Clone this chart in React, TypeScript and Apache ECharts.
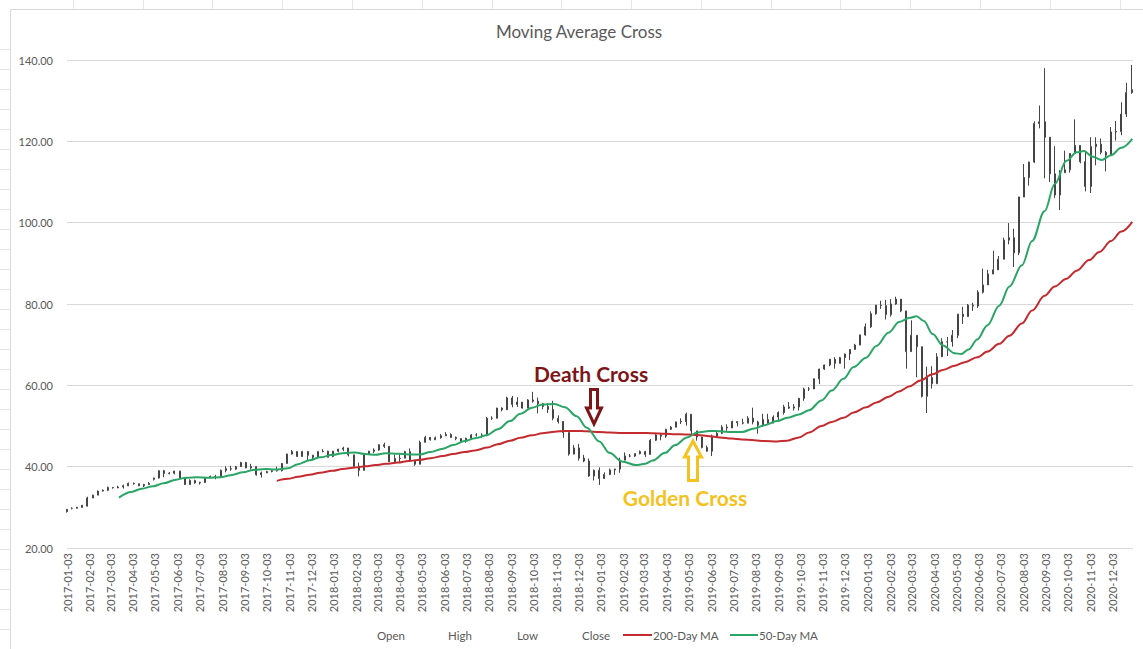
import React, { useEffect, useRef } from 'react';
import * as echarts from 'echarts';

// ---------- DATA ----------
// Weekly candles, one every 7 calendar days starting at 2017-01-03
const candleStart = '2017-01-03';
const candleStepDays = 7;

const openPrices = [
  // 2017
  28.95, 29.75, 29.76, 30.0, 30.3, 32.3, 33.0, 34.0, 34.2, 34.9, 34.8, 35.0, 35.3,
  35.9, 35.8, 35.3, 35.6, 36.9, 37.2, 39.0, 38.3, 38.4, 38.9, 37.2, 35.6, 36.6,
  36.0, 36.1, 37.3, 37.6, 37.4, 39.1, 39.5, 39.4, 40.0, 41.0, 39.7, 40.0, 38.0,
  38.5, 38.8, 39.0, 39.0, 40.8, 43.1, 43.7, 42.5, 43.7, 42.8, 42.3, 43.7, 43.8,
  // 2018
  42.5, 43.8, 44.3, 44.6, 42.9, 40.1, 39.1, 43.1, 43.8, 44.1, 45.4, 45.0, 41.2,
  42.0, 42.1, 43.7, 41.4, 40.6, 46.0, 47.2, 46.6, 47.1, 47.6, 47.9, 47.2, 46.9,
  46.3, 47.0, 47.8, 47.8, 47.7, 51.9, 51.9, 54.4, 54.0, 56.9, 55.3, 55.9, 54.4,
  56.4, 56.1, 55.5, 54.8, 54.1, 51.9, 51.1, 48.4, 43.1, 44.6, 42.1, 41.4, 37.7,
  // 2019
  39.1, 37.1, 38.1, 39.2, 39.4, 41.6, 42.6, 42.6, 43.2, 43.7, 43.0, 46.5, 47.8,
  47.5, 49.2, 49.7, 51.0, 51.1, 52.9, 48.8, 47.3, 44.7, 43.8, 47.5, 48.2, 49.7,
  49.5, 51.1, 50.8, 50.7, 51.9, 51.0, 50.2, 51.6, 50.7, 52.2, 53.3, 54.7, 54.4,
  54.7, 56.8, 59.1, 59.1, 61.6, 64.0, 65.0, 66.4, 65.4, 66.8, 67.7, 68.8, 69.9, 72.4,
  // 2020
  74.4, 77.6, 79.7, 79.6, 77.4, 80.0, 81.2, 78.3, 68.3, 72.3, 69.5, 57.3, 61.9,
  60.4, 67.0, 70.7, 70.7, 72.3, 77.5, 76.9, 79.7, 79.5, 82.9, 84.7, 87.4, 88.4,
  91.0, 95.7, 96.3, 92.6, 106.3, 111.1, 114.9, 124.4, 124.8, 121.0, 112.0, 106.8, 112.3,
  113.0, 117.0, 119.0, 115.0, 108.9, 118.7, 119.3, 117.3, 116.6, 122.3, 122.4, 126.7, 132.0,
];

const closePrices = [
  // 2017
  29.5, 29.76, 30.0, 30.5, 32.3, 33.0, 34.0, 34.2, 34.9, 34.8, 35.0, 35.3, 35.9,
  35.8, 35.3, 35.6, 35.9, 37.2, 39.0, 38.3, 38.4, 38.9, 37.2, 35.6, 36.6, 36.0,
  36.1, 37.3, 37.6, 37.4, 39.1, 39.5, 39.4, 40.0, 41.0, 39.7, 40.0, 38.0, 38.5,
  38.8, 39.0, 39.0, 40.8, 43.1, 43.7, 42.5, 43.7, 42.8, 42.3, 43.7, 43.8, 42.3,
  // 2018
  43.8, 44.3, 44.6, 42.9, 40.1, 39.1, 43.1, 43.8, 44.1, 45.4, 45.0, 41.2, 42.0,
  42.1, 43.7, 41.4, 40.6, 46.0, 47.2, 46.6, 47.1, 47.6, 47.9, 47.2, 46.9, 46.3,
  47.0, 47.8, 47.8, 47.7, 51.9, 51.9, 54.4, 54.0, 56.9, 55.3, 55.9, 54.4, 56.4,
  56.1, 55.5, 54.8, 54.1, 51.9, 51.1, 48.4, 43.1, 44.6, 42.1, 41.4, 37.7, 39.1,
  // 2019
  37.1, 38.1, 39.2, 39.4, 41.6, 42.6, 42.6, 43.2, 43.7, 43.0, 46.5, 47.8, 47.5,
  49.2, 49.7, 51.0, 51.1, 52.9, 48.8, 47.3, 44.7, 43.8, 47.5, 48.2, 49.7, 49.5,
  51.1, 50.8, 50.7, 51.9, 51.0, 50.2, 51.6, 50.7, 52.2, 53.3, 54.7, 54.4, 54.7,
  56.8, 59.1, 59.1, 61.6, 64.0, 65.0, 66.4, 65.4, 66.8, 67.7, 68.8, 69.9, 72.4, 74.4,
  // 2020
  77.6, 79.7, 79.6, 77.4, 80.0, 81.2, 78.3, 68.3, 72.3, 69.5, 57.3, 61.9, 60.4,
  67.0, 70.7, 70.7, 72.3, 77.5, 76.9, 79.7, 79.5, 82.9, 84.7, 87.4, 88.4, 91.0,
  95.7, 96.3, 92.6, 106.3, 111.1, 114.9, 124.4, 124.8, 121.0, 112.0, 106.8, 112.3, 113.0,
  117.0, 119.0, 115.0, 108.9, 118.7, 119.3, 117.3, 116.6, 122.3, 122.4, 126.7, 132.0, 132.7,
];

const lowPrices = [
  // 2017
  28.7, 29.5, 29.7, 29.9, 30.2, 32.3, 33.0, 33.9, 34.0, 34.6, 34.7, 34.6, 35.2,
  35.6, 35.2, 35.0, 35.6, 36.6, 37.1, 37.4, 38.1, 38.1, 37.1, 35.5, 35.6, 35.8,
  35.6, 36.0, 37.2, 36.9, 37.3, 38.6, 39.0, 39.2, 40.0, 39.6, 39.3, 37.8, 37.3,
  38.4, 38.6, 38.8, 38.8, 40.7, 43.0, 42.4, 42.4, 41.6, 41.6, 42.0, 43.5, 42.3,
  // 2018
  42.3, 43.5, 43.8, 42.5, 40.0, 37.6, 39.0, 42.9, 43.3, 43.9, 44.6, 41.2, 41.0,
  41.1, 42.1, 41.3, 40.2, 40.6, 46.0, 46.4, 46.6, 46.9, 47.5, 47.1, 46.5, 45.9,
  45.9, 46.8, 47.4, 47.0, 47.5, 51.5, 51.9, 53.6, 54.0, 54.6, 54.7, 54.3, 54.4,
  55.7, 53.1, 54.1, 53.2, 51.4, 50.6, 47.1, 42.7, 43.0, 41.5, 41.1, 37.5, 36.6,
  // 2019
  35.5, 37.0, 37.9, 38.0, 38.5, 41.6, 42.3, 42.4, 43.0, 42.4, 43.0, 46.3, 46.5,
  47.1, 49.0, 49.7, 50.5, 50.1, 48.0, 46.4, 44.5, 43.7, 42.6, 47.5, 48.0, 48.8,
  49.5, 49.9, 50.4, 50.7, 50.4, 48.1, 49.8, 50.3, 50.7, 51.1, 52.8, 54.2, 53.8,
  53.8, 56.2, 58.6, 59.1, 60.3, 63.8, 64.7, 64.1, 65.4, 64.1, 66.2, 68.8, 69.9, 72.2,
  // 2020
  74.1, 77.4, 78.8, 76.2, 76.9, 79.8, 78.0, 64.1, 68.3, 62.0, 57.0, 53.2, 59.2,
  60.4, 67.0, 67.2, 69.5, 71.6, 75.1, 76.9, 78.3, 79.0, 82.6, 84.7, 87.3, 88.4,
  91.0, 94.7, 89.1, 92.0, 106.3, 109.1, 114.7, 123.2, 110.9, 110.0, 106.1, 103.1, 112.2,
  112.3, 117.0, 114.6, 107.7, 107.3, 114.1, 116.8, 112.6, 116.6, 120.2, 121.5, 126.0, 131.7,
];

const highPrices = [
  // 2017
  29.6, 30.0, 30.1, 30.6, 32.6, 33.1, 34.1, 34.4, 35.1, 35.0, 35.3, 35.6, 36.1,
  36.1, 35.8, 35.8, 36.2, 37.3, 39.1, 39.2, 38.7, 39.0, 39.0, 37.4, 36.9, 36.8,
  36.3, 37.4, 37.8, 38.0, 39.3, 40.1, 40.2, 40.2, 41.2, 41.2, 40.7, 40.1, 38.8,
  39.0, 39.4, 40.0, 40.9, 43.2, 44.1, 43.8, 43.9, 43.8, 42.9, 43.8, 44.3, 43.9,
  // 2018
  43.9, 44.4, 44.9, 44.6, 42.9, 41.0, 43.3, 43.9, 44.5, 45.5, 45.9, 45.1, 43.0,
  43.0, 43.9, 44.5, 41.7, 46.4, 47.6, 47.3, 47.4, 48.0, 48.5, 48.2, 47.4, 47.0,
  47.1, 48.0, 48.2, 48.2, 52.2, 52.4, 54.5, 54.6, 57.2, 57.4, 57.1, 55.9, 56.6,
  58.4, 57.0, 55.7, 55.6, 56.2, 52.6, 51.2, 48.4, 45.3, 45.6, 42.9, 42.0, 39.3,
  // 2019
  39.8, 38.6, 39.5, 39.5, 42.2, 43.5, 43.1, 43.3, 44.0, 43.9, 46.8, 48.0, 48.0,
  49.3, 50.0, 51.1, 51.9, 53.3, 52.9, 48.8, 47.3, 45.2, 47.9, 49.0, 50.2, 50.4,
  51.3, 51.1, 51.8, 52.4, 54.5, 51.3, 53.0, 53.0, 52.6, 53.6, 55.2, 55.9, 55.4,
  56.9, 59.4, 59.6, 61.7, 64.1, 65.1, 66.5, 66.9, 67.0, 67.8, 68.9, 70.2, 72.5, 75.2,
  // 2020
  78.2, 79.8, 80.8, 81.0, 81.2, 81.8, 81.2, 78.3, 76.0, 72.3, 69.5, 64.6, 64.7,
  67.9, 71.6, 71.9, 73.6, 77.6, 79.3, 80.0, 80.3, 83.4, 88.7, 88.4, 93.1, 91.8,
  96.3, 99.9, 98.5, 106.4, 114.4, 115.0, 124.9, 128.8, 138.0, 121.0, 118.8, 112.9, 117.7,
  117.0, 125.4, 119.0, 117.6, 121.0, 121.0, 120.7, 117.6, 123.5, 125.0, 129.6, 134.4, 138.8,
];

// 50-day moving average (date, value)
const ma50: [string, number][] = [
  ['2017-03-15', 32.4], ['2017-04-01', 33.8], ['2017-04-15', 34.6], ['2017-05-01', 35.2],
  ['2017-05-15', 35.9], ['2017-06-01', 36.8], ['2017-06-15', 37.3], ['2017-07-01', 37.4],
  ['2017-07-15', 37.3], ['2017-08-01', 37.4], ['2017-08-15', 37.9], ['2017-09-01', 38.6],
  ['2017-09-15', 39.2], ['2017-10-01', 39.4], ['2017-10-15', 39.3], ['2017-11-01', 39.6],
  ['2017-11-15', 40.6], ['2017-12-01', 41.6], ['2017-12-15', 42.3], ['2018-01-02', 42.9],
  ['2018-01-15', 43.3], ['2018-02-01', 43.5], ['2018-02-15', 43.1], ['2018-03-01', 42.9],
  ['2018-03-15', 43.3], ['2018-04-01', 43.2], ['2018-04-15', 43.0], ['2018-05-01', 43.0],
  ['2018-05-15', 43.6], ['2018-06-01', 44.4], ['2018-06-15', 45.3], ['2018-07-01', 46.3],
  ['2018-07-15', 47.0], ['2018-08-01', 47.8], ['2018-08-15', 49.2], ['2018-09-01', 51.2],
  ['2018-09-15', 53.0], ['2018-10-01', 54.5], ['2018-10-15', 55.3], ['2018-11-01', 55.4],
  ['2018-11-15', 54.6], ['2018-12-01', 52.4], ['2018-12-15', 49.6], ['2019-01-01', 46.2],
  ['2019-01-15', 43.4], ['2019-02-01', 41.3], ['2019-02-20', 40.4], ['2019-03-05', 40.7],
  ['2019-03-15', 41.5], ['2019-04-01', 43.4], ['2019-04-15', 45.3], ['2019-05-01', 47.2],
  ['2019-05-15', 48.4], ['2019-06-01', 48.8], ['2019-06-15', 48.7], ['2019-07-01', 48.5],
  ['2019-07-15', 48.5], ['2019-08-01', 49.4], ['2019-08-15', 50.2], ['2019-09-01', 51.2],
  ['2019-09-15', 52.0], ['2019-10-01', 52.8], ['2019-10-15', 53.9], ['2019-11-01', 56.3],
  ['2019-11-15', 58.7], ['2019-12-01', 61.6], ['2019-12-15', 64.5], ['2020-01-01', 66.8],
  ['2020-01-15', 69.7], ['2020-02-01', 73.0], ['2020-02-15', 75.6], ['2020-03-01', 76.6],
  ['2020-03-10', 77.0], ['2020-03-20', 75.8], ['2020-04-01', 72.6], ['2020-04-15', 69.8],
  ['2020-05-01', 67.9], ['2020-05-10', 67.7], ['2020-05-20', 68.8], ['2020-06-01', 71.3],
  ['2020-06-15', 74.8], ['2020-07-01', 79.6], ['2020-07-15', 84.3], ['2020-08-01', 89.5],
  ['2020-08-15', 95.5], ['2020-09-01', 102.8], ['2020-09-15', 109.5], ['2020-10-01', 115.2],
  ['2020-10-15', 117.3], ['2020-10-25', 117.6], ['2020-11-05', 116.3], ['2020-11-18', 115.4],
  ['2020-12-01', 116.6], ['2020-12-15', 118.4], ['2020-12-30', 120.6],
];

// 200-day moving average (date, value)
const ma200: [string, number][] = [
  ['2017-10-17', 36.5], ['2017-11-01', 37.0], ['2017-11-15', 37.5], ['2017-12-01', 38.0],
  ['2017-12-15', 38.5], ['2018-01-01', 39.0], ['2018-01-15', 39.4], ['2018-02-01', 39.8],
  ['2018-02-15', 40.1], ['2018-03-01', 40.4], ['2018-03-15', 40.7], ['2018-04-01', 41.0],
  ['2018-04-15', 41.4], ['2018-05-01', 41.7], ['2018-05-15', 42.1], ['2018-06-01', 42.6],
  ['2018-06-15', 43.1], ['2018-07-01', 43.6], ['2018-07-15', 44.0], ['2018-08-01', 44.7],
  ['2018-08-15', 45.5], ['2018-09-01', 46.4], ['2018-09-15', 47.1], ['2018-10-01', 47.7],
  ['2018-10-15', 48.2], ['2018-11-01', 48.6], ['2018-11-15', 48.8], ['2018-12-01', 48.8],
  ['2018-12-15', 48.7], ['2019-01-01', 48.5], ['2019-01-15', 48.4], ['2019-02-01', 48.3],
  ['2019-02-15', 48.3], ['2019-03-01', 48.3], ['2019-03-15', 48.2], ['2019-04-01', 48.1],
  ['2019-04-15', 48.0], ['2019-05-01', 47.9], ['2019-05-15', 47.8], ['2019-06-01', 47.5],
  ['2019-06-15', 47.2], ['2019-07-01', 46.9], ['2019-07-15', 46.7], ['2019-08-01', 46.5],
  ['2019-08-15', 46.3], ['2019-09-01', 46.2], ['2019-09-15', 46.4], ['2019-10-01', 47.2],
  ['2019-10-15', 48.4], ['2019-11-01', 50.0], ['2019-11-15', 51.0], ['2019-12-01', 52.0],
  ['2019-12-15', 53.3], ['2020-01-01', 54.6], ['2020-01-15', 55.8], ['2020-02-01', 57.2],
  ['2020-02-15', 58.5], ['2020-03-01', 59.8], ['2020-03-15', 61.2], ['2020-04-01', 62.7],
  ['2020-04-15', 63.8], ['2020-05-01', 64.8], ['2020-05-15', 65.7], ['2020-06-01', 66.9],
  ['2020-06-15', 68.3], ['2020-07-01', 70.2], ['2020-07-15', 72.2], ['2020-08-01', 75.2],
  ['2020-08-15', 78.4], ['2020-09-01', 82.0], ['2020-09-15', 84.3], ['2020-10-01', 86.2],
  ['2020-10-15', 88.2], ['2020-11-01', 90.8], ['2020-11-15', 92.8], ['2020-12-01', 95.5],
  ['2020-12-15', 97.8], ['2020-12-30', 100.2],
];

// Axis settings
const axisStart = '2017-01-03';
const axisEnd = '2020-12-31';
const yTicks = { min: 20, max: 140, interval: 20 };

const legendItems = ['Open', 'High', 'Low', 'Close', '200-Day MA', '50-Day MA'];
const chartTitle = 'Moving Average Cross';

// ---------- helpers ----------
const DAY_MS = 86400000;
const toMs = (d: string) => Date.parse(d + 'T00:00:00Z');
const startMs = toMs(axisStart);
const dayIndex = (d: string) => Math.round((toMs(d) - startMs) / DAY_MS);
const dayCount = dayIndex(axisEnd) + 1;
const dayLabels = Array.from({ length: dayCount }, (_, i) =>
  new Date(startMs + i * DAY_MS).toISOString().slice(0, 10)
);
const candleOffset = dayIndex(candleStart);

const TEXT = '#595959';
const GRID = '#d9d9d9';
const RED = '#C42B2F';
const GREEN = '#2BA565';
const CANDLE = '#454545';
const DEATH = '#7E1519';
const GOLD = '#F4C21E';
const FONT = 'Lato, "Noto Sans", sans-serif';

export default function App() {
  const ref = useRef<HTMLDivElement>(null);

  useEffect(() => {
    if (!ref.current) return;
    const chart = echarts.init(ref.current, undefined, { renderer: 'svg' });

    const candles = openPrices.map((o, i) => [
      candleOffset + i * candleStepDays,
      o,
      closePrices[i],
      lowPrices[i],
      highPrices[i],
    ]);

    // Excel sheet cell marks around the chart frame (decoration)
    const cellMarks: any[] = [];
    for (let x = 72.7; x < 1143; x += 69.8) {
      cellMarks.push({
        type: 'line', silent: true,
        shape: { x1: Math.round(x) + 0.5, y1: 0, x2: Math.round(x) + 0.5, y2: 9 },
        style: { stroke: '#e6e6e6', lineWidth: 1 },
      });
    }
    for (let y = 49.3; y < 649; y += 20) {
      cellMarks.push({
        type: 'line', silent: true,
        shape: { x1: 0, y1: Math.round(y) + 0.5, x2: 10, y2: Math.round(y) + 0.5 },
        style: { stroke: '#e6e6e6', lineWidth: 1 },
      });
    }

    const legendY = 635;
    const legendText = (text: string, x: number) => ({
      type: 'text', silent: true, x, y: legendY,
      style: { text, fill: TEXT, fontSize: 11.5, fontFamily: FONT, align: 'left', verticalAlign: 'middle' },
    });
    const legendLine = (x1: number, x2: number, color: string) => ({
      type: 'line', silent: true,
      shape: { x1, y1: legendY, x2, y2: legendY },
      style: { stroke: color, lineWidth: 2 },
    });

    const option: any = {
      animation: false,
      backgroundColor: '#ffffff',
      grid: { left: 67, right: 10, top: 60, bottom: 101, containLabel: false },
      xAxis: [
        {
          type: 'value', min: 0, max: dayCount - 1, show: false, position: 'top',
          splitLine: { show: false },
        },
        {
          type: 'category', data: dayLabels, boundaryGap: false, position: 'bottom',
          axisLine: { show: false }, axisTick: { show: false }, splitLine: { show: false },
          axisLabel: {
            interval: (_i: number, v: string) => v.slice(8) === '03',
            rotate: 90, color: TEXT, fontSize: 11, fontFamily: FONT, margin: 5,
          },
        },
      ],
      yAxis: {
        type: 'value', min: yTicks.min, max: yTicks.max, interval: yTicks.interval,
        axisLine: { show: false }, axisTick: { show: false },
        axisLabel: { formatter: (v: number) => v.toFixed(2), color: TEXT, fontSize: 11, fontFamily: FONT, margin: 14 },
        splitLine: { lineStyle: { color: GRID, width: 1 } },
      },
      series: [
        {
          name: 'Price', type: 'candlestick', xAxisIndex: 0, yAxisIndex: 0,
          data: candles, barWidth: 1.5, large: false, z: 2,
          itemStyle: { color: CANDLE, color0: CANDLE, borderColor: CANDLE, borderColor0: CANDLE, borderWidth: 1 },
        },
        {
          name: legendItems[4], type: 'line', xAxisIndex: 0, yAxisIndex: 0,
          data: ma200.map(([d, v]) => [dayIndex(d), v]),
          showSymbol: false, smooth: 0.35, smoothMonotone: 'x', z: 4,
          lineStyle: { color: RED, width: 2 },
        },
        {
          name: legendItems[5], type: 'line', xAxisIndex: 0, yAxisIndex: 0,
          data: ma50.map(([d, v]) => [dayIndex(d), v]),
          showSymbol: false, smooth: 0.35, smoothMonotone: 'x', z: 4,
          lineStyle: { color: GREEN, width: 2 },
        },
      ],
      graphic: [
        {
          type: 'rect', silent: true,
          shape: { x: 10.5, y: 9.5, width: 1150, height: 660 },
          style: { fill: 'none', stroke: '#d9d9d9', lineWidth: 1 },
        },
        ...cellMarks,
        {
          type: 'text', silent: true, x: 579, y: 31,
          style: { text: chartTitle, fill: TEXT, fontSize: 17, fontFamily: FONT, align: 'center', verticalAlign: 'middle' },
        },
        {
          type: 'text', silent: true, x: 591, y: 373, z: 10,
          style: { text: 'Death Cross', fill: DEATH, fontSize: 21, fontWeight: 'bold', fontFamily: FONT, align: 'center', verticalAlign: 'middle' },
        },
        {
          type: 'polygon', silent: true, z: 10,
          shape: { points: [[590.5, 389.5], [597.5, 389.5], [597.5, 408], [601.5, 408], [594, 424], [586.5, 408], [590.5, 408]] },
          style: { fill: '#ffffff', stroke: DEATH, lineWidth: 3, lineJoin: 'miter' },
        },
        {
          type: 'text', silent: true, x: 685, y: 497, z: 10,
          style: { text: 'Golden Cross', fill: GOLD, fontSize: 21, fontWeight: 'bold', fontFamily: FONT, align: 'center', verticalAlign: 'middle' },
        },
        {
          type: 'polygon', silent: true, z: 10,
          shape: { points: [[693, 441], [701.5, 457], [697.5, 457], [697.5, 480.5], [688.5, 480.5], [688.5, 457], [684.5, 457]] },
          style: { fill: '#ffffff', stroke: GOLD, lineWidth: 3, lineJoin: 'miter' },
        },
        legendText(legendItems[0], 377),
        legendText(legendItems[1], 448),
        legendText(legendItems[2], 517),
        legendText(legendItems[3], 582),
        legendLine(623, 652, RED),
        legendText(legendItems[4], 653),
        legendLine(730, 758, GREEN),
        legendText(legendItems[5], 759),
      ],
    };

    chart.setOption(option);
    return () => chart.dispose();
  }, []);

  return (
    <div
      ref={ref}
      style={{ position: 'fixed', left: 0, top: 0, width: 1143, height: 649, background: '#fff' }}
    />
  );
}
